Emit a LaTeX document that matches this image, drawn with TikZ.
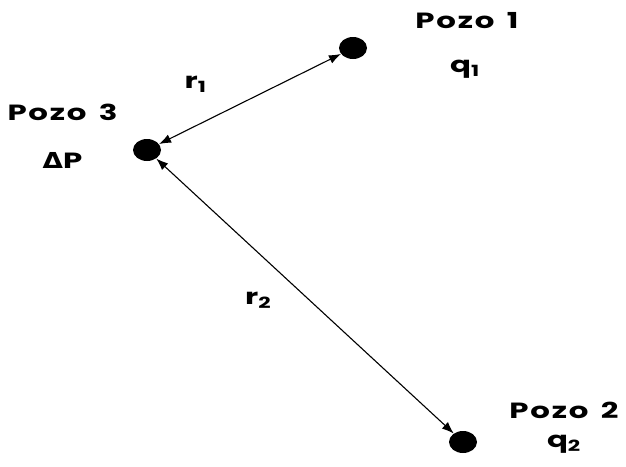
\documentclass[tikz,border=0pt]{standalone}
\usepackage{fontspec}
\setmainfont{Poppins}[FakeStretch=1.4,LetterSpace=8,WordSpace=1.5]
\newfontfamily\deltafont{DejaVu Sans}[FakeStretch=1.2]
\usetikzlibrary{positioning,shapes.geometric,arrows.meta}

\tikzset{
  dot/.style={ellipse,fill=black,inner sep=0pt,minimum width=28pt,minimum height=22pt},
  lbl/.style={inner sep=0pt,text height=15pt,text depth=4pt,
    font=\fontsize{22}{24}\selectfont\bfseries},
}

\begin{document}
\begin{tikzpicture}[x=1pt,y=-1pt]
    \useasboundingbox (0,0) rectangle (626,466);

    \node[dot] (p1) at (353,48) {};
    \node[dot] (p3) at (147,150) {};
    \node[dot] (p2) at (463,442) {};

    \node[lbl] (lab1) [right = 48pt,at=(p1.east),yshift=25.5pt] {Pozo 1};
    \node[lbl] (q1) [below = 25pt,at=(lab1.south),xshift=-2pt] {q\textsubscript{1}};
    \node[lbl] (lab3) [left = 15pt,at=(p3.west),yshift=35.5pt] {Pozo 3};
    \node[lbl] (dp) [below = 29pt,at=(lab3.south)] {{\deltafont\char"0394}P};
    \node[lbl] (lab2) [right = 32pt,at=(p2.east),yshift=29.5pt] {Pozo 2};
    \node[lbl] (q2) [below = 10pt,at=(lab2.south)] {q\textsubscript{2}};

    \path[draw,line width=1.1pt,{Latex[length=12pt,width=9pt]}-{Latex[length=12pt,width=9pt]}]
    (p3) edge node[lbl,pos=0.3,xshift=-18pt,yshift=34pt] (r1) {r\textsubscript{1}} (p1)
    (p3) edge node[lbl,pos=0.42,xshift=-23pt,yshift=-24.6pt] (r2) {r\textsubscript{2}} (p2)
    ;
\end{tikzpicture}
\end{document}
